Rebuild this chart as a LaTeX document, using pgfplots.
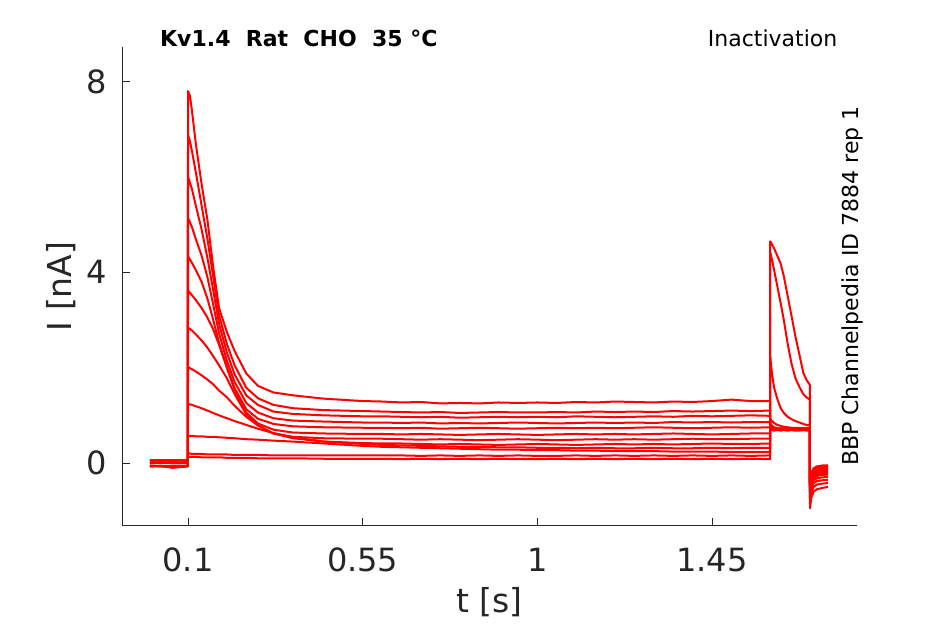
\documentclass[border=0pt]{standalone}
\usepackage{fontspec}
\setmainfont{DejaVu Sans}
\usepackage{pgfplots}
\usepackage{pgfplotstable}
\pgfplotsset{compat=1.18}
\definecolor{axgray}{HTML}{262626}

\pgfplotstableread{
t a b c d e f g h i j k l
0.002  0.06 0.00 -0.07 0.05 0.01 -0.06 0.06 0.00 -0.07 0.05 -0.01 -0.06
0.03   0.05 0.01 -0.06 0.06 0.00 -0.07 0.05 0.01 -0.06 0.06 0.00 -0.07
0.06   0.06 0.00 -0.10 0.05 0.01 -0.07 0.06 0.00 -0.09 0.05 0.00 -0.06
0.0998 0.05 0.00 -0.07 0.06 0.01 -0.06 0.05 0.00 -0.07 0.06 0.01 -0.06
0.1    7.80 6.88 6.00 5.14 4.34 3.62 2.84 2.02 1.24 0.57 0.21 0.14
0.105  7.70 6.75 5.88 5.05 4.27 3.57 2.81 1.99 1.23 0.57 0.20 0.13
0.11   7.40 6.55 5.75 4.95 4.20 3.52 2.78 1.97 1.22 0.57 0.19 0.13
0.12   6.70 6.10 5.40 4.70 4.05 3.42 2.70 1.92 1.19 0.56 0.19 0.13
0.135  5.85 5.40 4.90 4.35 3.80 3.25 2.57 1.84 1.15 0.56 0.19 0.12
0.15   5.10 4.70 4.30 3.90 3.45 3.05 2.42 1.75 1.10 0.55 0.18 0.12
0.165  4.10 3.90 3.62 3.32 3.00 2.80 2.24 1.65 1.05 0.55 0.18 0.12
0.18   3.25 3.10 2.92 2.72 2.52 2.48 2.05 1.52 1.00 0.54 0.18 0.12
0.20   2.75 2.50 2.32 2.15 2.02 2.00 1.78 1.38 0.94 0.53 0.18 0.11
0.22   2.35 2.05 1.86 1.70 1.57 1.54 1.45 1.20 0.88 0.52 0.17 0.11
0.25   1.88 1.58 1.42 1.26 1.13 1.06 1.02 0.97 0.80 0.50 0.17 0.11
0.28   1.62 1.36 1.22 1.06 0.93 0.83 0.79 0.79 0.72 0.49 0.17 0.10
0.32   1.48 1.22 1.08 0.94 0.82 0.70 0.62 0.62 0.63 0.47 0.16 0.10
0.37   1.42 1.15 1.03 0.89 0.77 0.64 0.55 0.52 0.54 0.45 0.16 0.10
0.45   1.35 1.11 1.00 0.87 0.75 0.62 0.52 0.45 0.45 0.41 0.16 0.09
0.55   1.30 1.09 0.98 0.85 0.74 0.61 0.51 0.42 0.40 0.36 0.16 0.09
0.60   1.29 1.08 0.98 0.85 0.74 0.61 0.51 0.41 0.38 0.34 0.16 0.09
0.65   1.27 1.07 0.97 0.84 0.73 0.60 0.50 0.41 0.37 0.33 0.16 0.08
0.70   1.28 1.06 0.96 0.85 0.74 0.61 0.49 0.40 0.36 0.32 0.15 0.09
0.75   1.25 1.07 0.97 0.83 0.72 0.60 0.50 0.39 0.35 0.31 0.16 0.08
0.80   1.26 1.05 0.95 0.84 0.73 0.59 0.49 0.40 0.34 0.30 0.15 0.09
0.85   1.25 1.06 0.96 0.83 0.74 0.60 0.48 0.39 0.34 0.29 0.16 0.08
0.90   1.27 1.07 0.97 0.84 0.73 0.61 0.49 0.38 0.33 0.28 0.15 0.09
0.95   1.26 1.06 0.96 0.85 0.72 0.60 0.50 0.39 0.33 0.28 0.16 0.08
1.00   1.27 1.06 0.97 0.84 0.73 0.59 0.49 0.40 0.32 0.27 0.15 0.08
1.05   1.26 1.07 0.96 0.83 0.74 0.60 0.48 0.39 0.32 0.27 0.15 0.09
1.10   1.28 1.06 0.98 0.84 0.73 0.61 0.49 0.38 0.31 0.26 0.16 0.08
1.15   1.27 1.08 0.97 0.85 0.74 0.60 0.50 0.39 0.32 0.26 0.15 0.09
1.20   1.29 1.07 0.96 0.84 0.73 0.61 0.49 0.40 0.31 0.25 0.16 0.08
1.25   1.28 1.08 0.97 0.85 0.74 0.60 0.50 0.39 0.31 0.25 0.15 0.09
1.30   1.27 1.07 0.98 0.84 0.75 0.61 0.49 0.40 0.32 0.25 0.16 0.08
1.35   1.29 1.09 0.97 0.86 0.74 0.62 0.50 0.39 0.31 0.24 0.15 0.09
1.40   1.28 1.08 0.99 0.85 0.73 0.61 0.51 0.40 0.31 0.24 0.16 0.08
1.45   1.30 1.09 0.98 0.86 0.74 0.60 0.50 0.41 0.32 0.24 0.15 0.09
1.50   1.33 1.10 0.99 0.85 0.75 0.61 0.50 0.40 0.31 0.23 0.16 0.08
1.55   1.30 1.09 1.00 0.86 0.74 0.62 0.51 0.40 0.32 0.23 0.15 0.09
1.5998 1.30 1.10 0.99 0.86 0.75 0.62 0.51 0.41 0.32 0.23 0.16 0.08
1.6    0.72 0.70 0.74 0.73 0.76 0.78 0.80 0.84 0.92 2.23 4.42 4.65
1.605  0.71 0.69 0.72 0.71 0.73 0.74 0.75 0.78 0.88 1.85 4.25 4.58
1.61   0.70 0.68 0.71 0.70 0.72 0.72 0.73 0.75 0.84 1.58 4.05 4.50
1.618  0.70 0.69 0.70 0.71 0.71 0.72 0.72 0.73 0.80 1.35 3.72 4.35
1.627  0.69 0.68 0.71 0.70 0.72 0.71 0.73 0.72 0.78 1.15 3.35 4.18
1.635  0.70 0.69 0.70 0.71 0.71 0.72 0.72 0.73 0.76 1.05 3.00 3.92
1.645  0.69 0.68 0.71 0.70 0.72 0.71 0.73 0.72 0.75 0.97 2.50 3.50
1.655  0.70 0.69 0.70 0.71 0.71 0.72 0.72 0.73 0.74 0.92 2.08 3.08
1.665  0.69 0.68 0.70 0.70 0.72 0.71 0.73 0.72 0.74 0.88 1.78 2.65
1.675  0.70 0.68 0.71 0.70 0.71 0.72 0.72 0.73 0.74 0.85 1.60 2.28
1.685  0.69 0.69 0.70 0.71 0.72 0.71 0.73 0.72 0.73 0.82 1.45 1.90
1.693  0.70 0.68 0.71 0.70 0.71 0.72 0.72 0.73 0.73 0.80 1.38 1.75
1.702  0.69 0.68 0.70 0.71 0.72 0.71 0.73 0.72 0.73 0.79 1.33 1.64
1.7025 -0.40 -0.42 -0.45 -0.47 -0.50 -0.52 -0.55 -0.58 -0.62 -0.70 -0.80 -0.95
1.706  -0.20 -0.22 -0.25 -0.28 -0.31 -0.34 -0.37 -0.40 -0.45 -0.52 -0.62 -0.72
1.712  -0.11 -0.13 -0.16 -0.19 -0.22 -0.25 -0.28 -0.31 -0.36 -0.42 -0.50 -0.60
1.72   -0.07 -0.09 -0.12 -0.15 -0.18 -0.21 -0.24 -0.27 -0.32 -0.38 -0.45 -0.55
1.735  -0.05 -0.07 -0.10 -0.13 -0.16 -0.19 -0.22 -0.25 -0.30 -0.36 -0.43 -0.52
1.749  -0.05 -0.07 -0.09 -0.12 -0.15 -0.18 -0.21 -0.24 -0.29 -0.35 -0.42 -0.50
}\tracedata

\begin{document}
\begin{tikzpicture}[x=1pt,y=1pt]
\path[use as bounding box] (0,0) rectangle (945,624);
\begin{axis}[
  at={(122.3pt,98pt)}, anchor=south west,
  scale only axis, width=734.7pt, height=479.3pt,
  xmin=-0.0693, xmax=1.8236, ymin=-1.32, ymax=8.73,
  clip=false,
  axis x line*=bottom, axis y line*=left,
  axis line style={axgray, line width=1pt},
  tick align=inside, major tick length=7.5pt,
  every tick/.style={axgray, line width=1pt},
  xtick={0.1,0.55,1,1.45}, xticklabels={0.1,0.55,1,1.45},
  ytick={0,4,8}, yticklabels={0,4,8},
  /pgf/number format/assume math mode=true,
  ticklabel style={font=\fontsize{32}{38}\selectfont, text=axgray, inner sep=0pt},
  xticklabel shift=22pt, yticklabel shift=15.6pt,
  xlabel={t [s]},
  xlabel style={at={(axis description cs:0.5,-0.1815)}, anchor=base, font=\fontsize{33}{40}\selectfont, text=axgray, inner sep=0pt},
  ylabel={I [nA]},
  ylabel style={at={(axis description cs:-0.0689,0.5)}, anchor=base, rotate=0, font=\fontsize{33}{40}\selectfont, text=axgray, inner sep=0pt},
]
\pgfplotsinvokeforeach{a,b,c,d,e,f,g,h,i,j,k,l}{
  \addplot[red, line width=2pt, line join=round, mark=none] table[x=t, y=#1] {\tracedata};
}
\node[anchor=base west, inner sep=0pt, font=\bfseries\fontsize{22}{26}\selectfont] at (axis description cs:0.0513,1) {Kv1.4\ \ Rat\ \ CHO\ \ 35\ °C};
\node[anchor=base east, inner sep=0pt, font=\fontsize{22}{26}\selectfont] at (axis description cs:0.9735,1) {Inactivation};
\node[anchor=base west, rotate=90, inner sep=0pt, font=\fontsize{22}{26}\selectfont] at (axis description cs:1.0027,0.1252) {BBP Channelpedia ID 7884 rep 1};
\end{axis}
\end{tikzpicture}
\end{document}
